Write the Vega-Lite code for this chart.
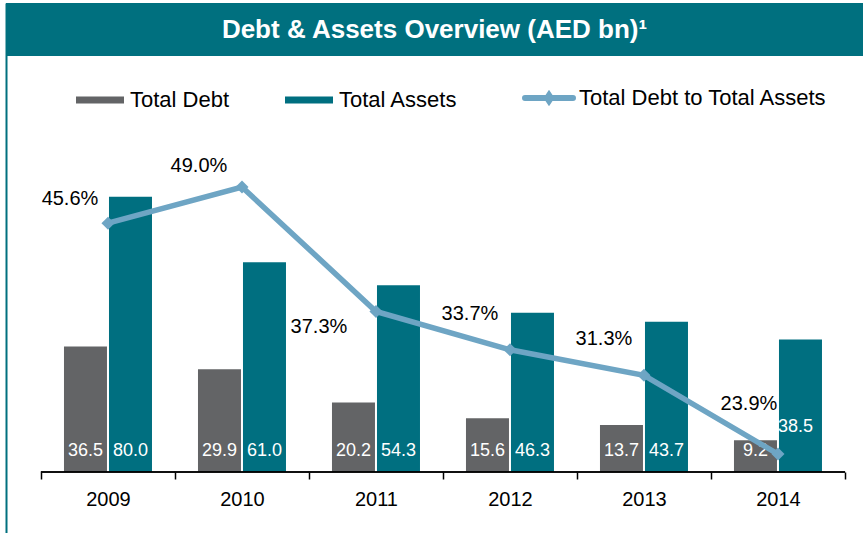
{
  "$schema": "https://vega.github.io/schema/vega-lite/v6.json",
  "width": 857,
  "height": 530,
  "autosize": {"type": "none"},
  "padding": {"left": 6, "top": 3, "right": 0, "bottom": 0},
  "background": "white",
  "config": {
    "font": "Liberation Sans",
    "view": {"stroke": null},
    "legend": {
      "orient": "none",
      "direction": "horizontal",
      "title": null,
      "padding": 0,
      "symbolSize": 2304,
      "symbolType": "M-1,-0.15H1V0.15H-1Z",
      "labelFontSize": 22,
      "labelFont": "Liberation Sans",
      "labelColor": "#000000",
      "labelLimit": 600,
      "labelOffset": 19,
      "columnPadding": 55,
      "symbolStrokeWidth": 0,
      "symbolOpacity": 1
    }
  },
  "datasets": {
    "bars": [
      {"year": "2009", "series": "Total Debt", "value": 36.5},
      {"year": "2009", "series": "Total Assets", "value": 80.0},
      {"year": "2010", "series": "Total Debt", "value": 29.9},
      {"year": "2010", "series": "Total Assets", "value": 61.0},
      {"year": "2011", "series": "Total Debt", "value": 20.2},
      {"year": "2011", "series": "Total Assets", "value": 54.3},
      {"year": "2012", "series": "Total Debt", "value": 15.6},
      {"year": "2012", "series": "Total Assets", "value": 46.3},
      {"year": "2013", "series": "Total Debt", "value": 13.7},
      {"year": "2013", "series": "Total Assets", "value": 43.7},
      {"year": "2014", "series": "Total Debt", "value": 9.2},
      {"year": "2014", "series": "Total Assets", "value": 38.5}
    ],
    "ratio": [
      {"year": "2009", "series": "Total Debt to Total Assets", "ratio": 0.456},
      {"year": "2010", "series": "Total Debt to Total Assets", "ratio": 0.490},
      {"year": "2011", "series": "Total Debt to Total Assets", "ratio": 0.373},
      {"year": "2012", "series": "Total Debt to Total Assets", "ratio": 0.337},
      {"year": "2013", "series": "Total Debt to Total Assets", "ratio": 0.313},
      {"year": "2014", "series": "Total Debt to Total Assets", "ratio": 0.239}
    ],
    "header": [
      {"title": "Debt & Assets Overview (AED bn)¹"}
    ]
  },
  "layer": [
    {
      "layer": [
        {
          "data": {"name": "header"},
          "mark": {"type": "rect", "color": "#00707F"},
          "encoding": {
            "y": {"datum": 136.34, "type": "quantitative"},
            "y2": {"datum": 120.9}
          }
        },
        {
          "data": {"name": "header"},
          "mark": {"type": "text", "color": "#FFFFFF", "fontSize": 26, "fontWeight": "bold", "baseline": "middle", "align": "center"},
          "encoding": {
            "y": {"datum": 128.4, "type": "quantitative"},
            "text": {"field": "title"}
          }
        },
        {
          "data": {"name": "bars"},
          "mark": {"type": "bar"},
          "encoding": {
            "x": {
              "field": "year",
              "type": "nominal",
              "scale": {"type": "band", "paddingInner": 0, "paddingOuter": 0.1978, "align": 0.66},
              "axis": {
                "orient": "bottom",
                "offset": -61,
                "domain": false,
                "tickBand": "extent",
                "tickSize": 7,
                "tickColor": "#000000",
                "tickWidth": 1.5,
                "labelFontSize": 20,
                "labelColor": "#000000",
                "labelFont": "Liberation Sans",
                "labelPadding": 10,
                "labelAngle": 0,
                "title": null,
                "grid": false
              }
            },
            "xOffset": {
              "field": "series",
              "type": "nominal",
              "sort": ["Total Debt", "Total Assets"],
              "scale": {"paddingInner": 0.0444, "paddingOuter": 0.511}
            },
            "y": {
              "field": "value",
              "type": "quantitative",
              "scale": {"domain": [-17.73, 136.34], "nice": false, "zero": false},
              "axis": {
                "orient": "left",
                "labels": false,
                "ticks": false,
                "grid": false,
                "title": null,
                "domainColor": "#00707F",
                "domainWidth": 2
              }
            },
            "color": {
              "field": "series",
              "type": "nominal",
              "scale": {
                "domain": ["Total Debt", "Total Assets", "Total Debt to Total Assets"],
                "range": ["#636466", "#006F80", "#6EA5C4"]
              },
              "legend": {
                "orient": "none",
                "legendX": 83,
                "legendY": 84,
                "direction": "horizontal",
                "title": null,
                "labelLimit": 600,
                "encode": {
                  "symbols": {
                    "update": {
                      "shape": {"signal": "datum.value === 'Total Debt to Total Assets' ? 'M-1,0H1M-0.08,0L0,-0.12L0.08,0L0,0.12Z' : 'M-1,-0.15H1V0.15H-1Z'"},
                      "fill": {"signal": "scale('color', datum.value)"},
                      "stroke": {"signal": "scale('color', datum.value)"},
                      "strokeWidth": {"signal": "datum.value === 'Total Debt to Total Assets' ? 6 : 0"},
                      "strokeCap": {"value": "round"},
                      "opacity": {"value": 1}
                    }
                  }
                }
              }
            }
          }
        },
        {
          "data": {"name": "bars"},
          "transform": [{"filter": "datum.year !== '2014' || datum.series !== 'Total Assets'"}],
          "mark": {"type": "text", "color": "#FFFFFF", "fontSize": 18, "baseline": "middle", "align": "center", "dy": -21},
          "encoding": {
            "x": {"field": "year", "type": "nominal"},
            "xOffset": {"field": "series", "type": "nominal", "sort": ["Total Debt", "Total Assets"]},
            "y": {"datum": 0, "type": "quantitative"},
            "text": {"field": "value", "type": "quantitative", "format": ".1f"}
          }
        },
        {
          "data": {"name": "bars"},
          "transform": [{"filter": "datum.year === '2014' && datum.series === 'Total Assets'"}],
          "mark": {"type": "text", "color": "#FFFFFF", "fontSize": 18, "baseline": "middle", "align": "center", "dy": -45, "dx": -5},
          "encoding": {
            "x": {"field": "year", "type": "nominal"},
            "xOffset": {"field": "series", "type": "nominal", "sort": ["Total Debt", "Total Assets"]},
            "y": {"datum": 0, "type": "quantitative"},
            "text": {"field": "value", "type": "quantitative", "format": ".1f"}
          }
        },
        {
          "data": {"name": "bars"},
          "mark": {"type": "tick", "orient": "horizontal", "size": 134.2, "thickness": 1.5, "color": "#000000", "opacity": 1},
          "encoding": {
            "x": {"field": "year", "type": "nominal"},
            "y": {"datum": 0, "type": "quantitative"}
          }
        }
      ]
    },
    {
      "data": {"name": "ratio"},
      "layer": [
        {
          "mark": {"type": "line", "strokeWidth": 5.5, "point": {"shape": "diamond", "size": 170, "filled": true}},
          "encoding": {
            "x": {"field": "year", "type": "nominal"},
            "y": {
              "field": "ratio",
              "type": "quantitative",
              "scale": {"domain": [0.1648, 0.6629], "nice": false, "zero": false},
              "axis": null
            },
            "color": {"field": "series", "type": "nominal"}
          }
        },
        {
          "transform": [{"filter": "datum.year === '2009'"}],
          "mark": {"type": "text", "color": "#000000", "fontSize": 20, "baseline": "middle", "align": "center", "dx": -38, "dy": -24.5},
          "encoding": {
            "x": {"field": "year", "type": "nominal"},
            "y": {"field": "ratio", "type": "quantitative"},
            "text": {"field": "ratio", "type": "quantitative", "format": ".1%"}
          }
        },
        {
          "transform": [{"filter": "datum.year === '2010'"}],
          "mark": {"type": "text", "color": "#000000", "fontSize": 20, "baseline": "middle", "align": "center", "dx": -43, "dy": -21},
          "encoding": {
            "x": {"field": "year", "type": "nominal"},
            "y": {"field": "ratio", "type": "quantitative"},
            "text": {"field": "ratio", "type": "quantitative", "format": ".1%"}
          }
        },
        {
          "transform": [{"filter": "datum.year === '2011'"}],
          "mark": {"type": "text", "color": "#000000", "fontSize": 20, "baseline": "middle", "align": "center", "dx": -57, "dy": 16},
          "encoding": {
            "x": {"field": "year", "type": "nominal"},
            "y": {"field": "ratio", "type": "quantitative"},
            "text": {"field": "ratio", "type": "quantitative", "format": ".1%"}
          }
        },
        {
          "transform": [{"filter": "datum.year === '2012' || datum.year === '2013'"}],
          "mark": {"type": "text", "color": "#000000", "fontSize": 20, "baseline": "middle", "align": "center", "dx": -40, "dy": -36},
          "encoding": {
            "x": {"field": "year", "type": "nominal"},
            "y": {"field": "ratio", "type": "quantitative"},
            "text": {"field": "ratio", "type": "quantitative", "format": ".1%"}
          }
        },
        {
          "transform": [{"filter": "datum.year === '2014'"}],
          "mark": {"type": "text", "color": "#000000", "fontSize": 20, "baseline": "middle", "align": "center", "dx": -29, "dy": -50},
          "encoding": {
            "x": {"field": "year", "type": "nominal"},
            "y": {"field": "ratio", "type": "quantitative"},
            "text": {"field": "ratio", "type": "quantitative", "format": ".1%"}
          }
        }
      ]
    }
  ],
  "resolve": {"scale": {"y": "independent"}}
}
